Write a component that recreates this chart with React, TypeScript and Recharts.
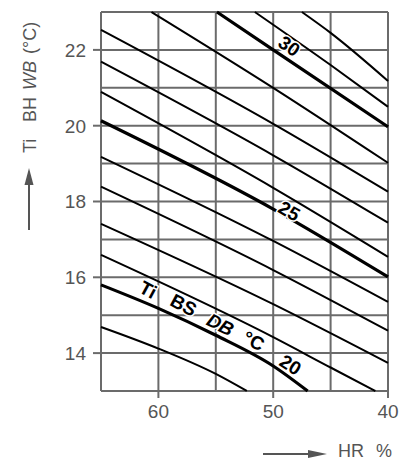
import { LineChart, Line, XAxis, YAxis, CartesianGrid, ReferenceDot } from 'recharts'

const rhTicks = [65, 60, 55, 50, 45, 40]
const rhLabelled = [60, 50, 40]
const wbTicks = [13, 14, 15, 16, 17, 18, 19, 20, 21, 22, 23]
const wbLabelled = [14, 16, 18, 20, 22]

// dry bulb curves, [HR %, wet bulb °C]
const db19 = [[65, 14.69], [60, 14.12], [55, 13.45], [52.3, 13]]
const db20 = [[65, 15.8], [60, 15.18], [55, 14.47], [50, 13.66], [47, 13]]
const db21 = [[65, 16.59], [50, 14.42], [45, 13.62], [41.1, 13]]
const db22 = [[65, 17.41], [50, 15.29], [40, 13.74]]
const db23 = [[65, 18.39], [50, 16.19], [40, 14.59]]
const db24 = [[65, 19.18], [50, 16.96], [40, 15.35]]
const db25 = [[65, 20.13], [50, 17.8], [40, 16.01]]
const db26 = [[65, 20.89], [50, 18.36], [40, 16.54]]
const db27 = [[65, 21.69], [50, 19.22], [40, 17.44]]
const db28 = [[65, 22.53], [50, 20.05], [40, 18.26]]
const db29 = [[60.6, 23], [50, 21.0], [40, 19.02]]
const db30 = [[54.9, 23], [50, 22.0], [40, 19.97]]
const db31 = [[51.6, 23], [45, 21.6], [40, 20.5]]
const db32 = [[47.5, 23], [45, 22.45], [40, 21.18]]

const dbCurves: [number, number[][]][] = [
  [19, db19], [20, db20], [21, db21], [22, db22], [23, db23], [24, db24], [25, db25],
  [26, db26], [27, db27], [28, db28], [29, db29], [30, db30], [31, db31], [32, db32],
]
const thick = [20, 25, 30]

const curveLabels = [
  { text: '30', rh: 48.6, wb: 22.1, angle: 35 },
  { text: '25', rh: 48.6, wb: 17.75, angle: 30 },
  { text: 'Ti', rh: 60.9, wb: 15.67, angle: 28 },
  { text: 'BS', rh: 57.8, wb: 15.27, angle: 28 },
  { text: 'DB', rh: 54.6, wb: 14.75, angle: 27, italic: true },
  { text: '°C', rh: 51.7, wb: 14.32, angle: 27 },
  { text: '20', rh: 48.5, wb: 13.69, angle: 32 },
]

const GRID = '#6b6b6b'
const TXT = '#555'
const FONT = '"Liberation Sans", Arial, sans-serif'

const RhTick = (props: any) => {
  const { x, y, payload } = props
  if (!rhLabelled.includes(payload.value)) return <g />
  return (
    <g>
      <line x1={x} x2={x} y1={y - 14} y2={y - 7} stroke={GRID} strokeWidth={2} />
      <text x={x} y={y} dy="0.71em" textAnchor="middle" fill={TXT} fontSize={19} fontFamily={FONT}>
        {payload.value}
      </text>
    </g>
  )
}

const WbTick = (props: any) => {
  const { x, y, payload } = props
  if (!wbLabelled.includes(payload.value)) return <g />
  return (
    <g>
      <line x1={x + 7} x2={x + 15} y1={y} y2={y} stroke={GRID} strokeWidth={2} />
      <text x={x} y={y} dy="0.36em" textAnchor="end" fill={TXT} fontSize={19} fontFamily={FONT}>
        {payload.value}
      </text>
    </g>
  )
}

const labelShape = (text: string, angle: number, italic?: boolean) => (p: any) => (
  <text
    x={p.cx}
    y={p.cy}
    dy="0.35em"
    textAnchor="middle"
    transform={`rotate(${angle} ${p.cx} ${p.cy})`}
    fontSize={19}
    fontWeight="bold"
    fontStyle={italic ? 'italic' : 'normal'}
    fontFamily={FONT}
    fill="#000"
    stroke="#fff"
    strokeWidth={3}
    paintOrder="stroke"
  >
    {text}
  </text>
)

export default function App() {
  return (
    <div style={{ position: 'absolute', left: 0, top: 0, width: 401, height: 462, background: '#fff' }}>
      <LineChart width={401} height={462} margin={{ top: 12, right: 13, left: 0, bottom: 0 }}>
        <CartesianGrid stroke={GRID} strokeWidth={2} />
        <XAxis
          type="number"
          dataKey="rh"
          domain={[40, 65]}
          reversed
          ticks={rhTicks}
          height={71}
          tickSize={7}
          tickMargin={7}
          tickLine={false}
          axisLine={false}
          tick={RhTick}
          allowDuplicatedCategory={false}
        />
        <YAxis
          type="number"
          dataKey="wb"
          domain={[13, 23]}
          ticks={wbTicks}
          width={101}
          tickSize={8}
          tickMargin={7}
          tickLine={false}
          axisLine={false}
          tick={WbTick}
        />
        {dbCurves.map(([db, pts]) => (
          <Line
            key={db}
            data={pts.map(([rh, wb]) => ({ rh, wb }))}
            dataKey="wb"
            type="monotone"
            stroke="#000"
            strokeWidth={thick.includes(db) ? 3.2 : 2}
            dot={false}
            isAnimationActive={false}
          />
        ))}
        {curveLabels.map((l) => (
          <ReferenceDot
            key={l.text}
            x={l.rh}
            y={l.wb}
            r={0}
            shape={labelShape(l.text, l.angle, l.italic)}
          />
        ))}
      </LineChart>
      <svg
        width={401}
        height={462}
        style={{ position: 'absolute', left: 0, top: 0, pointerEvents: 'none' }}
      >
        <g transform="translate(36,153) rotate(-90)" fill={TXT} fontSize={18} fontFamily={FONT}>
          <text x={0} y={0}>Ti</text>
          <text x={31} y={0}>BH</text>
          <text x={63} y={0} fontStyle="italic">WB</text>
          <text x={99} y={0}>(°C)</text>
        </g>
        <line x1={29} x2={29} y1={230} y2={184} stroke={TXT} strokeWidth={2} />
        <polygon points="29,168 33.5,185 24.5,185" fill={TXT} />
        <line x1={263} x2={310} y1={454} y2={454} stroke={TXT} strokeWidth={2} />
        <polygon points="308,450 327,454 308,458" fill={TXT} />
        <text x={338} y={457} fill={TXT} fontSize={18} fontFamily={FONT}>HR</text>
        <text x={376} y={457} fill={TXT} fontSize={18} fontFamily={FONT}>%</text>
      </svg>
    </div>
  )
}
